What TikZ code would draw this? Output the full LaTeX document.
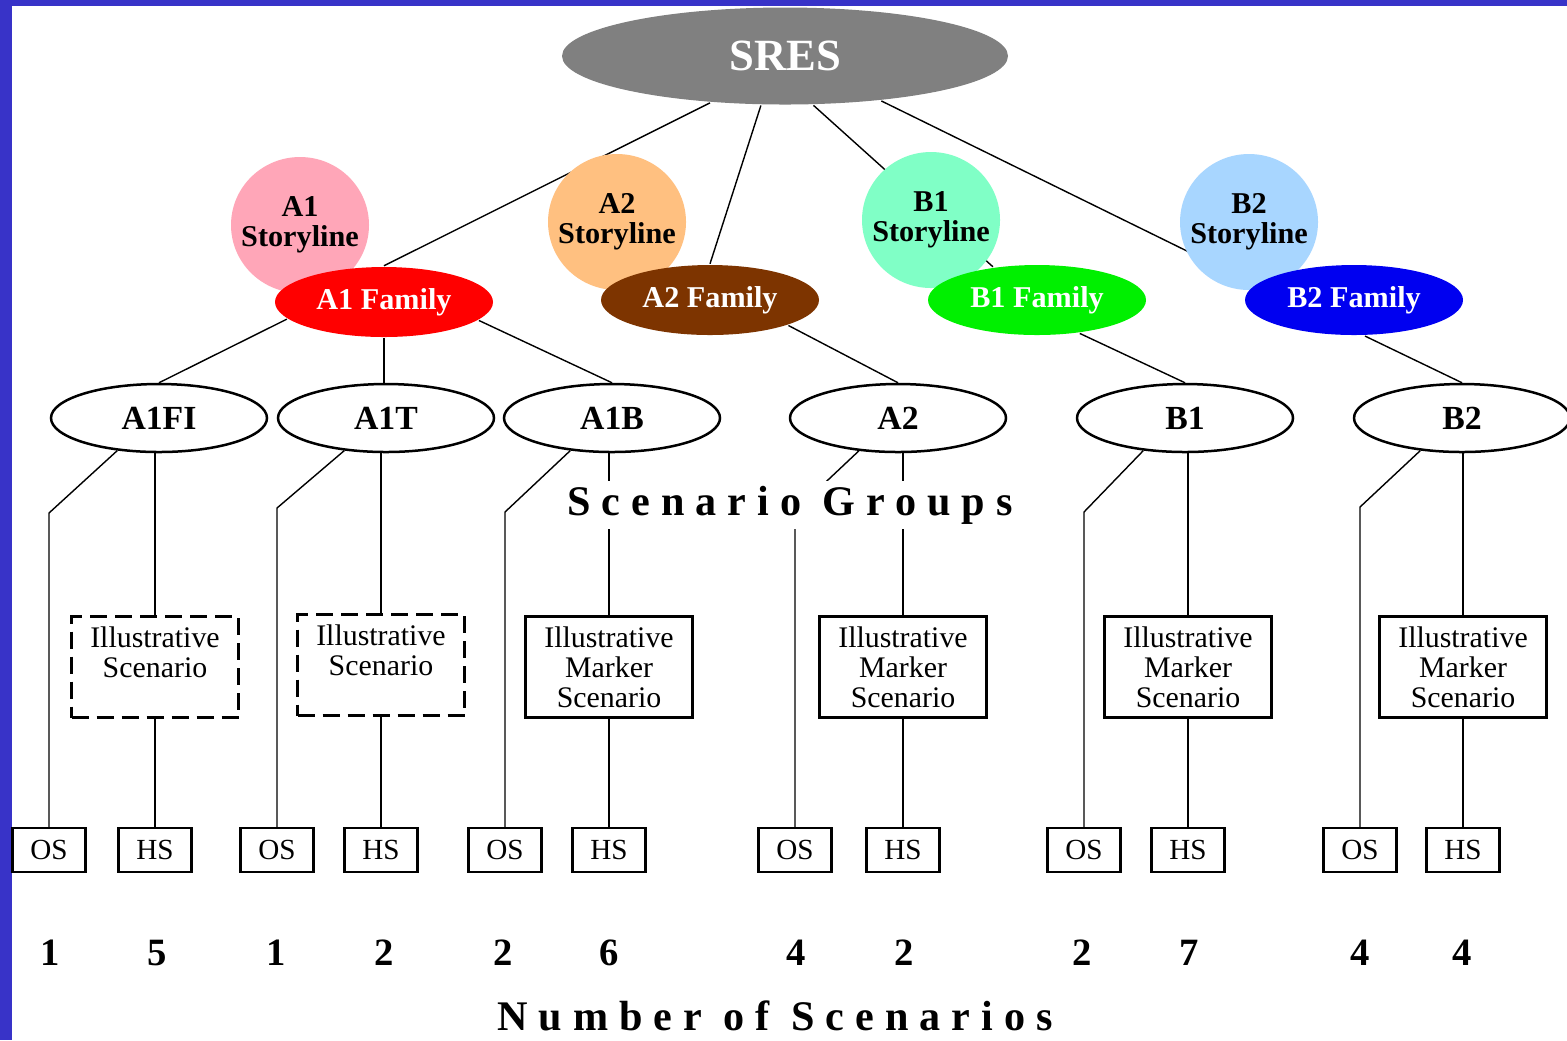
\documentclass[tikz,border=0pt]{standalone}
\usepackage{fontspec}
\setmainfont{Liberation Serif}
\newfontfamily\spacedfont[LetterSpace=26]{Liberation Serif}
\usetikzlibrary{shapes.geometric,backgrounds}

\definecolor{framecol}{RGB}{56,51,200}
\definecolor{sresgray}{RGB}{128,128,128}
\definecolor{a1pink}{RGB}{255,166,184}
\definecolor{a2orange}{RGB}{255,192,128}
\definecolor{b1mint}{RGB}{128,255,198}
\definecolor{b2sky}{RGB}{168,214,255}
\definecolor{a1red}{RGB}{255,0,0}
\definecolor{a2brown}{RGB}{125,52,0}
\definecolor{b1green}{RGB}{0,240,0}
\definecolor{b2blue}{RGB}{0,0,240}

\tikzset{
  sresnode/.style={ellipse, fill=sresgray, minimum width=44.6mm, minimum height=9.7mm, inner sep=0pt, text=white, font=\fontsize{12.7}{13}\selectfont\bfseries},
  storynode/.style={ellipse, minimum width=13.8mm, minimum height=13.6mm, inner xsep=-1mm, inner ysep=0pt, align=center, font=\fontsize{8.6}{8.5}\selectfont\bfseries},
  famnode/.style={ellipse, minimum width=21.8mm, minimum height=7mm, inner sep=0pt, text=white, font=\fontsize{8.6}{9}\selectfont\bfseries},
  groupnode/.style={ellipse, draw, fill=white, minimum width=21.6mm, minimum height=6.8mm, inner sep=0pt, font=\fontsize{9.6}{10}\selectfont\bfseries},
  illbox/.style={rectangle, draw, fill=white, minimum width=16.7mm, minimum height=10.1mm, inner sep=0pt, align=center, font=\fontsize{8.5}{8.5}\selectfont},
  dashbox/.style={illbox, line width=0.3mm, dash pattern=on 1.7mm off 0.8mm},
  outbox/.style={rectangle, draw, fill=white, minimum width=7.3mm, minimum height=4.4mm, inner sep=0pt, font=\fontsize{8.3}{9}\selectfont},
  countnum/.style={font=\fontsize{11}{12}\selectfont\bfseries},
  capnode/.style={fill=white, inner xsep=1mm, inner ysep=0.5mm, font=\fontsize{12}{13}\spacedfont\bfseries}
}

\begin{document}
\begin{tikzpicture}[x=0.1mm, y=-0.1mm, line width=0.25mm]
  \useasboundingbox (0,0) rectangle (1567,1040);

  \node[sresnode] (sres) at (785,56) {SRES};

  \node[storynode, fill=a1pink] (a1story) at (300,225) {A1\\Storyline};
  \node[storynode, fill=a2orange] (a2story) at (617,222) {A2\\Storyline};
  \node[storynode, fill=b1mint] (b1story) at (931,220) {B1\\Storyline};
  \node[storynode, fill=b2sky] (b2story) at (1249,222) {B2\\Storyline};

  \node[famnode, fill=a1red] (a1fam) at (384,302) {A1 Family};
  \node[famnode, fill=a2brown] (a2fam) at (710,300) {A2 Family};
  \node[famnode, fill=b1green] (b1fam) at (1037,300) {B1 Family};
  \node[famnode, fill=b2blue] (b2fam) at (1354,300) {B2 Family};

  \node[groupnode] (grpa1fi) at (159,418) {A1FI};
  \node[groupnode] (grpa1t) at (386,418) {A1T};
  \node[groupnode] (grpa1b) at (612,418) {A1B};
  \node[groupnode] (grpa2) at (898,418) {A2};
  \node[groupnode] (grpb1) at (1185,418) {B1};
  \node[groupnode] (grpb2) at (1462,418) {B2};

  \node[dashbox] (ill1) at (155,667) {Illustrative\\Scenario\\\phantom{X}};
  \node[dashbox] (ill2) at (381,665) {Illustrative\\Scenario\\\phantom{X}};
  \node[illbox] (ill3) at (609,667) {Illustrative\\Marker\\Scenario};
  \node[illbox] (ill4) at (903,667) {Illustrative\\Marker\\Scenario};
  \node[illbox] (ill5) at (1188,667) {Illustrative\\Marker\\Scenario};
  \node[illbox] (ill6) at (1463,667) {Illustrative\\Marker\\Scenario};

  \node[outbox] (os1) at (49,850) {OS};
  \node[outbox] (hs1) at (155,850) {HS};
  \node[outbox] (os2) at (277,850) {OS};
  \node[outbox] (hs2) at (381,850) {HS};
  \node[outbox] (os3) at (505,850) {OS};
  \node[outbox] (hs3) at (609,850) {HS};
  \node[outbox] (os4) at (795,850) {OS};
  \node[outbox] (hs4) at (903,850) {HS};
  \node[outbox] (os5) at (1084,850) {OS};
  \node[outbox] (hs5) at (1188,850) {HS};
  \node[outbox] (os6) at (1360,850) {OS};
  \node[outbox] (hs6) at (1463,850) {HS};

  \coordinate (bend1) at (49,513);
  \coordinate (bend2) at (277,508);
  \coordinate (bend3) at (505,512);
  \coordinate (bend4) at (795,511);
  \coordinate (bend5) at (1084,512);
  \coordinate (bend6) at (1360,507);

  \node[countnum] (cnt1) at (50,953) {1};
  \node[countnum] (cnt2) at (157,953) {5};
  \node[countnum] (cnt3) at (276,953) {1};
  \node[countnum] (cnt4) at (384,953) {2};
  \node[countnum] (cnt5) at (503,953) {2};
  \node[countnum] (cnt6) at (609,953) {6};
  \node[countnum] (cnt7) at (796,953) {4};
  \node[countnum] (cnt8) at (904,953) {2};
  \node[countnum] (cnt9) at (1082,953) {2};
  \node[countnum] (cnt10) at (1189,953) {7};
  \node[countnum] (cnt11) at (1360,953) {4};
  \node[countnum] (cnt12) at (1462,953) {4};

  \node[capnode] (groupscap) at (790,505) {Scenario Groups};
  \node[capnode] (countcap) at (775,1016) {Number of Scenarios};

  \begin{scope}[on background layer]
    \fill[framecol] (0,0) rectangle (1567,1040);
    \fill[white] (12,6) rectangle (1567,1040);

    \draw (sres.212) -- (a1fam.north);
    \draw (sres.244) -- (a2fam.north);
    \draw (sres.300) -- (b1fam.143);
    \draw (sres.335) -- (b2fam.171);

    \draw (a1fam.190) -- (grpa1fi.north);
    \draw (a1fam.south) -- (a1fam.south |- grpa1t.north);
    \draw (a1fam.349) -- (grpa1b.north);
    \draw (a2fam.342) -- (grpa2.north);
    \draw (b1fam.322) -- (grpb1.north);
    \draw (b2fam.287) -- (grpb2.north);

    \draw (grpa1fi.218) -- (bend1) -- (os1.north);
    \draw (grpa1t.218) -- (bend2) -- (os2.north);
    \draw (grpa1b.218) -- (bend3) -- (os3.north);
    \draw (grpa2.220) -- (bend4) -- (os4.north);
    \draw (grpb1.218) -- (bend5) -- (os5.north);
    \draw (grpb2.218) -- (bend6) -- (os6.north);

    \draw (ill1.north |- grpa1fi.south) -- (ill1.north);
    \draw (ill2.north |- grpa1t.south) -- (ill2.north);
    \draw (ill3.north |- grpa1b.south) -- (ill3.north);
    \draw (ill4.north |- grpa2.south) -- (ill4.north);
    \draw (ill5.north |- grpb1.south) -- (ill5.north);
    \draw (ill6.north |- grpb2.south) -- (ill6.north);

    \draw (ill1.south) -- (hs1.north);
    \draw (ill2.south) -- (hs2.north);
    \draw (ill3.south) -- (hs3.north);
    \draw (ill4.south) -- (hs4.north);
    \draw (ill5.south) -- (hs5.north);
    \draw (ill6.south) -- (hs6.north);
  \end{scope}
\end{tikzpicture}
\end{document}
